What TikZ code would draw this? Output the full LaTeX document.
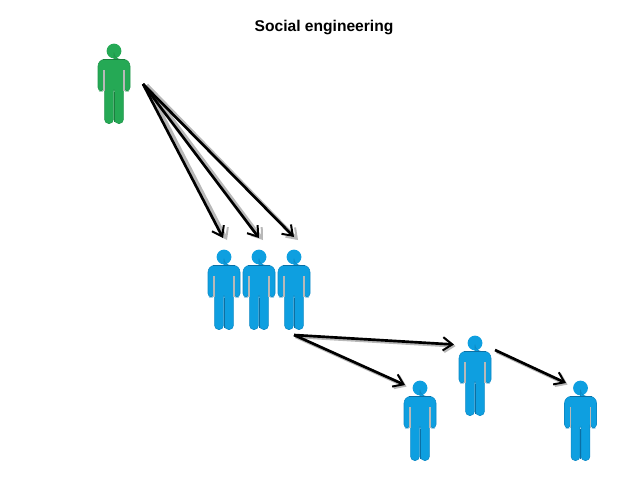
\documentclass[tikz,border=0pt]{standalone}
\usepackage{fontspec}
\setmainfont{Liberation Sans}
\usetikzlibrary{arrows.meta}
\definecolor{pgreen}{HTML}{25A955}
\definecolor{pgreenE}{HTML}{1A7F3E}
\definecolor{pblue}{HTML}{0E9FE0}
\definecolor{pblueE}{HTML}{0B6FA3}
\definecolor{dropgray}{HTML}{B8B8B8}
\tikzset{
  x=0.75pt,y=-0.75pt,
  link/.style={draw=black,line width=2pt,-{Straight Barb[length=7pt,width=10pt,line width=1.5pt]}},
  linkshade/.style={draw=dropgray,line width=2.4pt,-{Straight Barb[length=7pt,width=10pt,line width=1.5pt]}},
  softshade/.style={linkshade,transform canvas={xshift=1.2pt,yshift=-1.2pt}},
  titletext/.style={font=\fontsize{11.7pt}{13pt}\selectfont\bfseries,text=black,inner sep=0pt},
  person/.pic={
    \fill[pcolor] (0,7) circle[radius=7.4];
    \path[fill=pcolor,draw=pedge!45!pcolor,line width=0.4pt]
      [rounded corners=5pt] (0,15.4) -- (-16,15.4)
      [rounded corners=2.6pt] -- (-16,47) -- (-10.2,47)
      [sharp corners] -- (-10.2,44) -- (-9.4,44)
      [rounded corners=3pt] -- (-9.4,79.5) -- (-0.6,79.5)
      [sharp corners] -- (-0.6,46) -- (0.6,46)
      [rounded corners=3pt] -- (0.6,79.5) -- (9.4,79.5)
      [sharp corners] -- (9.4,44) -- (10.2,44)
      [rounded corners=2.6pt] -- (10.2,47) -- (16,47)
      [rounded corners=5pt] -- (16,15.4) -- (0,15.4) [sharp corners] -- cycle;
    \draw[pedge,line width=0.7pt] (-11,15.5) -- (11,15.5);
    \draw[dropgray,line width=0.9pt] (-10,26) -- (-10,47);
    \draw[dropgray,line width=0.9pt] (10,26) -- (10,47);
    \draw[pedge,line width=0.7pt] (0,48) -- (0,78);
  }
}
\newcommand{\person}[4]{\colorlet{pcolor}{#3}\colorlet{pedge}{#4}\pic (#1) at (#2) {person};}
\begin{document}
\begin{tikzpicture}
\useasboundingbox (0,0) rectangle (638,479);
\node[titletext] (title) at (324,27) {Social engineering};
\person{attacker}{114,44}{pgreen}{pgreenE}
\person{a}{224,250}{pblue}{pblueE}
\person{b}{259,250}{pblue}{pblueE}
\person{c}{294,250}{pblue}{pblueE}
\person{d}{475,336}{pblue}{pblueE}
\person{e}{420,381}{pblue}{pblueE}
\person{f}{580.5,381}{pblue}{pblueE}
\coordinate (from) at (143,84);
\coordinate (froms) at (147,85);
\coordinate (ta) at (223,238);
\coordinate (tb) at (259,238);
\coordinate (tc) at (294,237);
\coordinate (sa) at (227,240);
\coordinate (sb) at (263,240);
\coordinate (sc) at (298,240);
\coordinate (fromc) at (294,335);
\coordinate (td) at (454,344.5);
\coordinate (te) at (405,385);
\coordinate (fromd) at (495,350);
\coordinate (tf) at (566,383);
\draw[linkshade] (froms) -- (sa);
\draw[linkshade] (froms) -- (sb);
\draw[linkshade] (froms) -- (sc);
\draw[softshade] (fromc) -- (td);
\draw[softshade] (fromc) -- (te);
\draw[softshade] (fromd) -- (tf);
\draw[link] (from) -- (ta);
\draw[link] (from) -- (tb);
\draw[link] (from) -- (tc);
\draw[link] (fromc) -- (td);
\draw[link] (fromc) -- (te);
\draw[link] (fromd) -- (tf);
\end{tikzpicture}
\end{document}
